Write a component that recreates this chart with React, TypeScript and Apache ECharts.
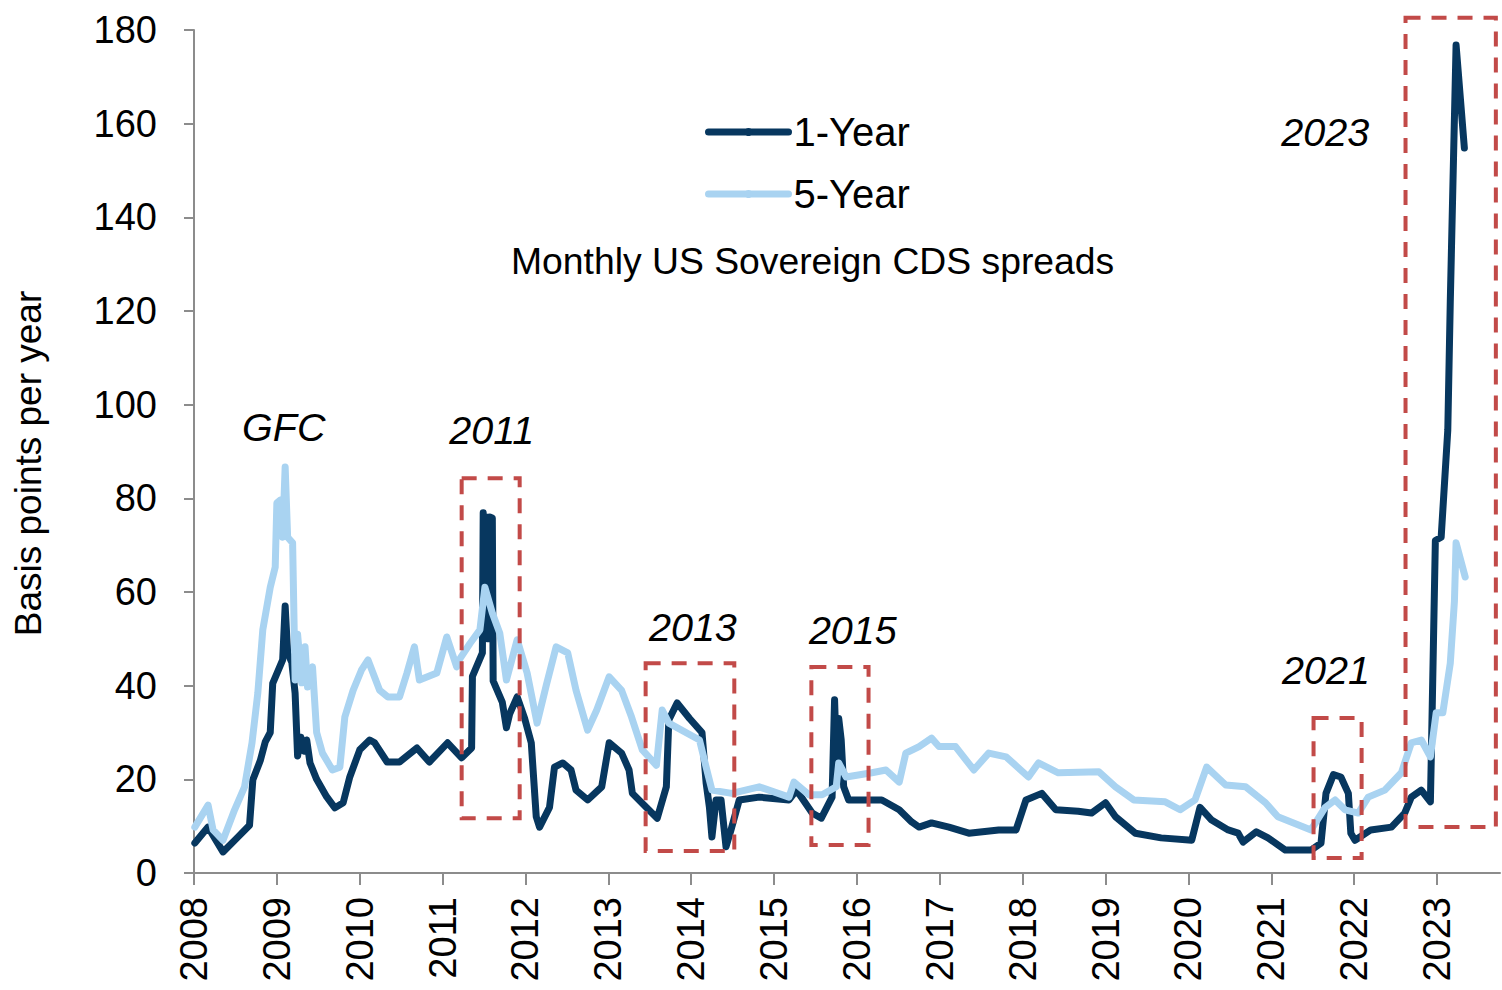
import React, { useEffect, useRef } from "react";
import * as echarts from "echarts";

// ---- Data (fractional year, basis points) ----
const oneYearDates = [
  2008.01, 2008.17, 2008.35, 2008.52, 2008.67, 2008.71, 2008.8, 2008.86, 2008.92, 2008.95,
  2009.07, 2009.1, 2009.13, 2009.18, 2009.22, 2009.25, 2009.29, 2009.33, 2009.36, 2009.4,
  2009.48, 2009.6, 2009.7, 2009.8, 2009.88, 2010.0, 2010.12, 2010.18, 2010.33, 2010.48,
  2010.69, 2010.84, 2011.06, 2011.23, 2011.35, 2011.36, 2011.48, 2011.49, 2011.51, 2011.53,
  2011.55, 2011.57, 2011.6, 2011.61, 2011.72, 2011.77, 2011.81, 2011.9, 2011.99, 2012.07,
  2012.13, 2012.17, 2012.29, 2012.35, 2012.45, 2012.55, 2012.61, 2012.75, 2012.92, 2013.01,
  2013.16, 2013.25, 2013.29, 2013.46, 2013.59, 2013.7, 2013.73, 2013.83, 2013.98, 2014.13,
  2014.18, 2014.22, 2014.25, 2014.3, 2014.36, 2014.42, 2014.48, 2014.58, 2014.82, 2015.18,
  2015.27, 2015.46, 2015.57, 2015.7, 2015.73, 2015.76, 2015.78, 2015.81, 2015.84, 2015.9,
  2016.3, 2016.51, 2016.66, 2016.75, 2016.9, 2017.11, 2017.35, 2017.71, 2017.92, 2018.04,
  2018.23, 2018.4, 2018.67, 2018.83, 2019.0, 2019.12, 2019.36, 2019.67, 2020.04, 2020.14,
  2020.28, 2020.48, 2020.6, 2020.66, 2020.82, 2020.96, 2021.17, 2021.48, 2021.6, 2021.66,
  2021.75, 2021.84, 2021.93, 2021.96, 2022.01, 2022.2, 2022.45, 2022.61, 2022.69, 2022.81,
  2022.92, 2022.93, 2022.98, 2023.05, 2023.13, 2023.16, 2023.23, 2023.33,
];
const oneYearValues = [
  6.4, 9.8, 4.5, 7.5, 10.2, 19.9, 24, 28, 30, 40.5,
  45.5, 57, 47, 45, 38.4, 25, 29, 26, 28.4, 23.5,
  20, 16.3, 13.9, 15, 20.5, 26.3, 28.4, 27.8, 23.7, 23.7,
  26.7, 23.7, 27.8, 24.6, 26.7, 42, 47, 76.9, 55, 76,
  50, 76, 75.8, 41, 36.5, 31, 34, 37.6, 33, 27.8,
  12, 9.8, 14, 22.6, 23.5, 22, 17.7, 15.6, 18.4, 27.8,
  25.6, 22, 17, 14, 11.7, 18.4, 32.7, 36.3, 33, 30,
  19.2, 14, 7.7, 15.6, 15.6, 5.6, 9.2, 15.6, 16.2, 15.6,
  17.7, 12.8, 11.7, 16.2, 37, 20, 33, 28.4, 18.4, 15.6,
  15.6, 13.5, 10.9, 9.8, 10.7, 9.8, 8.5, 9.2, 9.2, 15.6,
  17, 13.5, 13.2, 12.8, 15, 12, 8.5, 7.5, 7, 14,
  11.3, 9.2, 8.5, 6.6, 8.8, 7.5, 4.9, 4.9, 6.4, 17,
  21, 20.5, 17, 8.5, 7, 9.2, 9.8, 12.8, 16.2, 17.7,
  15.2, 24, 71, 71.7, 94.6, 122, 176.8, 154.8,
];

const fiveYearDates = [
  2008.01, 2008.17, 2008.23, 2008.35, 2008.49, 2008.61, 2008.7, 2008.77, 2008.83, 2008.92,
  2008.98, 2009.0, 2009.04, 2009.07, 2009.1, 2009.13, 2009.19, 2009.22, 2009.25, 2009.3,
  2009.34, 2009.37, 2009.43, 2009.48, 2009.55, 2009.67, 2009.76, 2009.82, 2009.92, 2010.02,
  2010.1, 2010.16, 2010.24, 2010.34, 2010.48, 2010.57, 2010.66, 2010.72, 2010.93, 2011.05,
  2011.17, 2011.2, 2011.33, 2011.45, 2011.51, 2011.6, 2011.69, 2011.77, 2011.9, 2012.02,
  2012.14, 2012.25, 2012.37, 2012.51, 2012.61, 2012.75, 2012.86, 2013.01, 2013.16, 2013.28,
  2013.41, 2013.58, 2013.65, 2013.73, 2014.1, 2014.18, 2014.25, 2014.49, 2014.82, 2015.18,
  2015.24, 2015.42, 2015.58, 2015.75, 2015.78, 2015.87, 2016.18, 2016.35, 2016.51, 2016.59,
  2016.75, 2016.9, 2016.99, 2017.19, 2017.41, 2017.59, 2017.8, 2018.07, 2018.19, 2018.43,
  2018.92, 2019.12, 2019.34, 2019.72, 2019.9, 2020.08, 2020.22, 2020.45, 2020.69, 2020.93,
  2021.08, 2021.48, 2021.65, 2021.77, 2021.89, 2022.05, 2022.17, 2022.37, 2022.57, 2022.69,
  2022.81, 2022.92, 2022.99, 2023.07, 2023.16, 2023.21, 2023.23, 2023.34,
];
const fiveYearValues = [
  9.8, 14.5, 9.2, 7, 13.5, 18.4, 27.8, 38.4, 51.9, 61,
  65.3, 79, 79.6, 71.7, 86.7, 71.7, 70.5, 41.2, 51, 40.6,
  48.3, 39.7, 44, 30, 25.6, 22, 22.6, 33.3, 39, 43.3,
  45.5, 42.7, 39, 37.6, 37.6, 42.7, 48.3, 41.2, 42.7, 50.4,
  44, 45.5, 49, 51.9, 61, 55.5, 51.2, 41.2, 49.8, 42.7,
  32, 40, 48.3, 47, 39, 30.5, 34.8, 41.9, 39, 33.3,
  26.3, 23, 34.8, 32, 28.4, 22.6, 17.7, 17, 18.4, 16.2,
  19.4, 16.7, 16.7, 18.4, 23.5, 20.5, 21.4, 22, 19.4, 25.6,
  27, 28.8, 27, 27, 22, 25.6, 24.8, 20.5, 23.5, 21.4,
  21.6, 18.4, 15.6, 15.2, 13.5, 15.6, 22.6, 18.8, 18.4, 15,
  12, 9.2, 14, 15.6, 13.5, 12.8, 16.2, 17.7, 21.4, 27.8,
  28.4, 24.8, 34.2, 34.2, 44.8, 58, 70.5, 63.2,
];

// Highlighted episodes: [fromYear, topValue, toYear, bottomValue]
const episodeBoxes = [
  [2011.23, 84.3, 2011.93, 11.7],
  [2013.45, 44.8, 2014.52, 4.7],
  [2015.45, 44, 2016.14, 6],
  [2021.51, 33.1, 2022.09, 3.2],
  [2022.62, 182.6, 2023.71, 9.8],
];

// Episode labels: [text, year at left edge, value at centre]
const episodeLabels: [string, number, number][] = [
  ["GFC", 2008.58, 95.2],
  ["2011", 2011.08, 94.5],
  ["2013", 2013.49, 52.5],
  ["2015", 2015.42, 51.9],
  ["2021", 2021.13, 43.3],
  ["2023", 2021.12, 158.2],
];

const yearTicks = [2008, 2009, 2010, 2011, 2012, 2013, 2014, 2015, 2016, 2017, 2018, 2019, 2020, 2021, 2022, 2023];
const xMin = 2008;
const xMax = 2023.76;
const seriesNames = ["1-Year", "5-Year"];
const chartTitle = "Monthly US Sovereign CDS spreads";
const yAxisTitle = "Basis points per year";

const FONT = "'Liberation Sans', Arial, sans-serif";

export default function App() {
  const ref = useRef<HTMLDivElement>(null);

  useEffect(() => {
    if (!ref.current) return;
    const chart = echarts.init(ref.current, null, { renderer: "svg" });
    const zip = (xs: number[], ys: number[]) => xs.map((x, i) => [x, ys[i]]);

    chart.setOption({
      animation: false,
      backgroundColor: "#ffffff",
      textStyle: { fontFamily: FONT },
      title: {
        text: chartTitle,
        left: 511,
        top: 242,
        padding: 0,
        textStyle: { fontSize: 37.3, fontWeight: "normal", color: "#000", fontFamily: FONT },
      },
      legend: {
        orient: "vertical",
        left: 705,
        top: 112,
        padding: 0,
        itemWidth: 80,
        itemHeight: 10,
        itemGap: 22,
        data: seriesNames,
        lineStyle: { width: 7, cap: "round" },
        textStyle: { fontSize: 40, color: "#000", fontFamily: FONT },
      },
      grid: { left: 194, top: 30, right: 2, height: 843, containLabel: false },
      xAxis: {
        type: "value",
        min: xMin,
        max: xMax,
        interval: 1,
        axisLine: { show: true, onZero: false, lineStyle: { color: "#8c8c8c", width: 2 } },
        axisTick: {
          show: true,
          length: 12,
          customValues: yearTicks,
          lineStyle: { color: "#8c8c8c", width: 2 },
        },
        splitLine: { show: false },
        axisLabel: {
          rotate: 90,
          margin: 24,
          fontSize: 38,
          color: "#000",
          fontFamily: FONT,
          customValues: yearTicks,
          formatter: (v: number) => (Number.isInteger(v) && v <= 2023 ? String(v) : ""),
        },
      },
      yAxis: {
        type: "value",
        min: 0,
        max: 180,
        interval: 20,
        name: yAxisTitle,
        nameLocation: "middle",
        nameGap: 147,
        nameRotate: 90,
        nameTextStyle: { fontSize: 37, color: "#000", fontFamily: FONT, padding: [0, 24, 0, 0] },
        axisLine: { show: true, lineStyle: { color: "#8c8c8c", width: 2 } },
        axisTick: { show: true, length: 10, lineStyle: { color: "#8c8c8c", width: 2 } },
        splitLine: { show: false },
        axisLabel: { margin: 37, fontSize: 38, color: "#000", fontFamily: FONT },
      },
      series: [
        {
          name: seriesNames[0],
          type: "line",
          symbol: "none",
          showSymbol: false,
          data: zip(oneYearDates, oneYearValues),
          lineStyle: { color: "#07375f", width: 7, join: "round", cap: "round" },
          itemStyle: { color: "#07375f" },
          z: 2,
        },
        {
          name: seriesNames[1],
          type: "line",
          symbol: "none",
          showSymbol: false,
          data: zip(fiveYearDates, fiveYearValues),
          lineStyle: { color: "#a9d3f1", width: 7, join: "round", cap: "round" },
          itemStyle: { color: "#a9d3f1" },
          z: 3,
        },
      ],
    });

    const toPx = (x: number, y: number) =>
      chart.convertToPixel({ gridIndex: 0 }, [x, y]) as number[];

    const boxes = episodeBoxes.map((b) => {
      const p1 = toPx(b[0], b[1]);
      const p2 = toPx(b[2], b[3]);
      return {
        type: "rect",
        z: 20,
        silent: true,
        shape: { x: p1[0], y: p1[1], width: p2[0] - p1[0], height: p2[1] - p1[1] },
        style: { fill: "none", stroke: "#c24a48", lineWidth: 4, lineDash: [15, 11] },
      };
    });

    const labels = episodeLabels.map(([text, x, y]) => {
      const p = toPx(x, y);
      return {
        type: "text",
        z: 20,
        silent: true,
        x: p[0],
        y: p[1],
        style: {
          text,
          fontSize: 39.5,
          fontStyle: "italic",
          fontFamily: FONT,
          fill: "#000",
          verticalAlign: "middle",
        },
      };
    });

    chart.setOption({ graphic: [...boxes, ...labels] });

    return () => chart.dispose();
  }, []);

  return (
    <div
      ref={ref}
      style={{ position: "absolute", left: 0, top: 0, width: 1502, height: 990, background: "#fff" }}
    />
  );
}
